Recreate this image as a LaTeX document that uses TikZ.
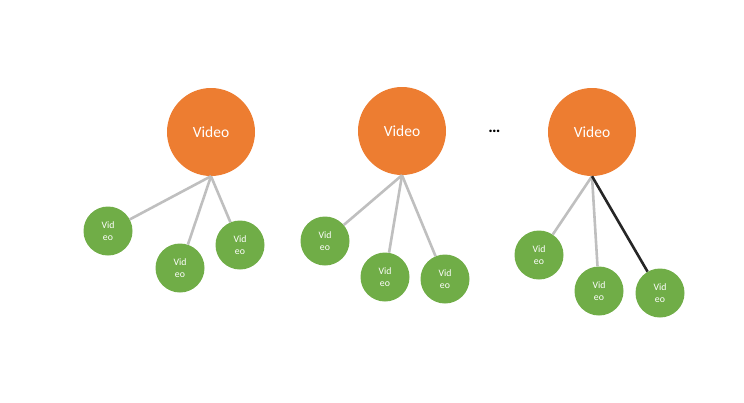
\documentclass[tikz,border=0pt]{standalone}
\usepackage{fontspec}
\setmainfont{Carlito}
\definecolor{vidorange}{HTML}{ED7D31}
\definecolor{vidgreen}{HTML}{70AD47}
\definecolor{linkgray}{HTML}{BFBFBF}
\definecolor{linkdark}{HTML}{262626}
\tikzset{
  big/.style={circle, fill=vidorange, draw=none, inner sep=0pt, minimum size=88pt,
    text=white, font=\fontsize{15.5}{18}\selectfont},
  small/.style={circle, fill=vidgreen, draw=none, inner sep=0pt, minimum size=49pt,
    text=white, align=center, font=\fontsize{9.8}{12}\selectfont},
  link/.style={line width=2.6pt},
}
\newcommand*{\BigVideo}[3]{% #1 = name, #2 = x, #3 = y
  \node [big] (#1) at (#2,#3) {Video};
}
\newcommand*{\SmallVideos}[2]{% #1 = parent, #2 = list of name/x/y/color
  \foreach \name/\x/\y/\linecolor in {#2} {
    \node [small] (\name) at (\x,\y) {Vid\\eo};
    \draw [link, draw=\linecolor] (#1.south) -- (\name);
    }%
}

\begin{document}
\begin{tikzpicture}[x=1pt, y=-1pt]
  \useasboundingbox (0,0) rectangle (744,402);
  \BigVideo{v1}{211}{132}
  \SmallVideos{v1}{a1/108/231/linkgray, a2/180/268/linkgray, a3/240/245/linkgray}
  \BigVideo{v2}{402}{131}
  \SmallVideos{v2}{b1/325/241/linkgray, b2/385/277/linkgray, b3/445/279/linkgray}
  \node [font=\fontsize{17}{20}\selectfont\bfseries] (dots) at (494.5,131.5) {…};
  \BigVideo{v3}{592}{132}
  \SmallVideos{v3}{c1/539/255/linkgray, c2/599/291/linkgray, c3/660/293/linkdark}
\end{tikzpicture}
\end{document}
